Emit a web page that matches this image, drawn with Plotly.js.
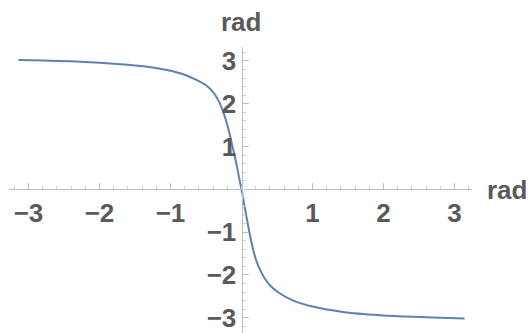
<!DOCTYPE html>
<html>
<head>
<meta charset="utf-8">
<script src="https://cdn.plot.ly/plotly-3.0.1.min.js"></script>
<style>html,body{margin:0;padding:0;background:#fff;}#chart{width:530px;height:333px;}</style>
</head>
<body>
<div id="chart"></div>
<script>
// Curve values (x in rad, y in rad)
const xValues = [-3.1416, -2.8, -2.4, -2.0, -1.6, -1.3, -1.05, -0.82, -0.65, -0.5, -0.4, -0.33, -0.27, -0.22, -0.17, -0.12, -0.07, -0.03, 0,
                 0.03, 0.07, 0.12, 0.17, 0.22, 0.27, 0.33, 0.4, 0.52, 0.73, 1.0, 1.45, 1.95, 2.42, 2.8, 3.1416];
const yValues = [3.02, 3.01, 2.99, 2.96, 2.91, 2.86, 2.79, 2.69, 2.57, 2.43, 2.27, 2.09, 1.87, 1.62, 1.31, 0.95, 0.58, 0.24, 0,
                 -0.28, -0.64, -1.08, -1.45, -1.72, -1.91, -2.09, -2.24, -2.41, -2.60, -2.74, -2.87, -2.94, -2.98, -3.00, -3.02];
const xTickVals = [-3, -2, -1, 1, 2, 3];
const yTickVals = [-3, -2, -1, 1, 2, 3];
const xTitle = "rad";
const yTitle = "rad";

const tickFont = {family: "Liberation Sans, Arial, sans-serif", size: 26, color: "#5a5a5a", weight: "bold"};

const trace = {
  x: xValues, y: yValues, type: "scatter", mode: "lines",
  line: {color: "#5E81B5", width: 2, shape: "spline", smoothing: 0.6},
  hoverinfo: "skip"
};

const W = 530, H = 333;
const layout = {
  width: W, height: H,
  margin: {l: 0, r: 0, t: 0, b: 0, pad: 0},
  paper_bgcolor: "#ffffff", plot_bgcolor: "rgba(0,0,0,0)",
  showlegend: false,
  xaxis: {
    range: [-3.28, 3.25], domain: [8.6 / W, 472.3 / W],
    anchor: "free", position: (H - 189.3) / H,
    showgrid: false, zeroline: false,
    showline: true, linecolor: "#bdbdbd", linewidth: 1,
    tickmode: "array", tickvals: xTickVals,
    ticks: "inside", ticklen: 6, tickcolor: "#bdbdbd", tickwidth: 1,
    minor: {dtick: 0.2, tick0: 0, ticks: "inside", ticklen: 3, tickcolor: "#cfcfcf", tickwidth: 1, showgrid: false},
    tickfont: tickFont, automargin: false, fixedrange: true
  },
  yaxis: {
    range: [-3.35, 3.33], domain: [(H - 332.7) / H, (H - 46.8) / H],
    anchor: "free", position: 241.5 / W,
    showgrid: false, zeroline: false,
    showline: true, linecolor: "#bdbdbd", linewidth: 1,
    tickmode: "array", tickvals: yTickVals,
    ticks: "inside", ticklen: 6, tickcolor: "#bdbdbd", tickwidth: 1,
    minor: {dtick: 0.2, tick0: 0, ticks: "inside", ticklen: 3, tickcolor: "#cfcfcf", tickwidth: 1, showgrid: false},
    tickfont: tickFont, automargin: false, fixedrange: true
  },
  annotations: [
    {text: yTitle, xref: "paper", yref: "paper", x: 241 / W, y: (H - 22) / H, xanchor: "center", yanchor: "middle",
     showarrow: false, font: tickFont},
    {text: xTitle, xref: "paper", yref: "paper", x: 507 / W, y: (H - 190) / H, xanchor: "center", yanchor: "middle",
     showarrow: false, font: tickFont}
  ]
};

Plotly.newPlot("chart", [trace], layout, {staticPlot: true, displayModeBar: false});
</script>
</body>
</html>
